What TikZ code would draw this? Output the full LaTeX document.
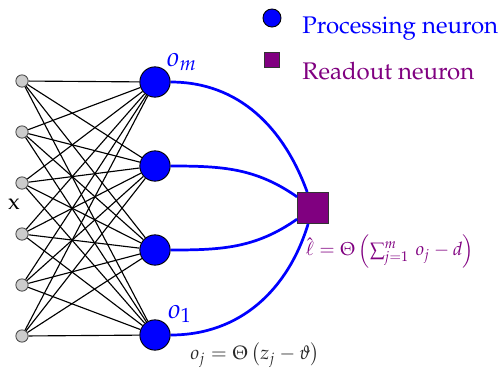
\documentclass[tikz,border=0pt]{standalone}
\usepackage{amsmath, amssymb}
\usepackage[T1]{fontenc}
\usepackage{mathpazo}
\usepackage{xcolor}
\usepackage{tikz}
\usetikzlibrary{positioning}
\definecolor{procblue}{RGB}{0, 0, 255}
\definecolor{readpurple}{RGB}{128, 0, 128}
\definecolor{formulagray}{RGB}{40, 40, 40}

\begin{document}
\begin{tikzpicture}[x=0.0155cm, y=-0.0155cm,
    inputnode/.style={circle, draw=black!70, fill=black!20, minimum size=0.19cm, inner sep=0pt},
    procnode/.style={circle, draw=black, fill=procblue, minimum size=0.47cm, inner sep=0pt},
    readnode/.style={rectangle, draw=black!80, fill=readpurple, minimum size=0.48cm, inner sep=0pt},
    legendtext/.style={anchor=west, inner sep=0pt, font=\fontsize{10.6}{12}\selectfont},
    weight/.style={line width=0.5pt, black},
    link/.style={line width=1.2pt, procblue}]

    \useasboundingbox (0,0) rectangle (500,374);

    % Inputs
    \node[inputnode] (in1) at (22,81) {};
    \node[inputnode] (in2) at (22,132) {};
    \node[inputnode] (in3) at (22,183) {};
    \node[inputnode] (in4) at (22,234) {};
    \node[inputnode] (in5) at (22,285) {};
    \node[inputnode] (in6) at (22,336) {};
    \node (xlab) at (14,204) {x};

    % Processing neurons
    \node[procnode] (hm) at (155,82) {};
    \node[procnode] (hb) at (155,166) {};
    \node[procnode] (hc) at (155,250) {};
    \node[procnode] (h1) at (155,335) {};
    \node[text=procblue, font=\large] (omlab) at (182,62) {$o_m$};
    \node[text=procblue, font=\large] (o1lab) at (180,314) {$o_1$};

    % Readout neuron
    \node[readnode] (out) at (313,208) {};

    % Weights
    \foreach \i in {in1,in2,in3,in4,in5,in6}
        \foreach \h in {hm,hb,hc,h1}
            \draw[weight] (\i) -- (\h);

    % Links to readout
    \draw[link] (hm.east) to[out=0, in=110] (out);
    \draw[link] (hb.east) to[out=0, in=145] (out);
    \draw[link] (hc.east) to[out=0, in=215] (out);
    \draw[link] (h1.east) to[out=0, in=253] (out);

    % Formulas
    \node[text=formulagray, font=\fontsize{8.5}{10}\selectfont] (ojeq) at (255,355) {$o_j = \Theta\left(z_j - \vartheta\right)$};
    \node[text=readpurple, font=\fontsize{8.2}{10}\selectfont] (lheq) at (390,251) {$\hat{\ell} = \Theta\left(\sum_{j=1}^{m}\, o_j - d\right)$};

    % Legend
    \node[procnode, minimum size=0.28cm] (legproc) at (272,18) {};
    \node[legendtext, text=procblue] (legproctext) at (302,29) {Processing neuron};
    \node[readnode, minimum size=0.22cm] (legread) at (272,60) {};
    \node[legendtext, text=readpurple] (legreadtext) at (302,71) {Readout neuron};
\end{tikzpicture}
\end{document}
